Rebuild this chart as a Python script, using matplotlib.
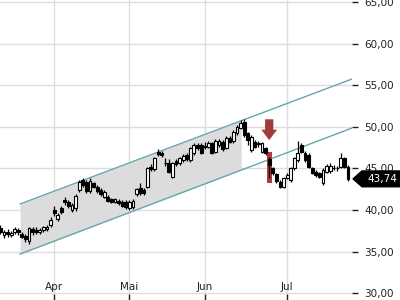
import numpy as np
import matplotlib
matplotlib.use("Agg")
import matplotlib.pyplot as plt
from matplotlib.patches import Polygon, Rectangle
from matplotlib.transforms import blended_transform_factory

# daily candles (index = trading day)
opens = [37.8, 37.0, 37.4, 37.0, 37.3, 37.6, 37.1, 36.9, 36.3, 37.7,
         37.6, 37.3, 37.6, 37.7, 38.2, 40.0, 38.9, 40.2, 41.2, 41.0,
         40.0, 40.2, 42.4, 43.6, 43.4, 42.3, 43.2, 42.8, 42.4, 41.6,
         41.6, 41.3, 41.0, 41.1, 41.0, 41.0, 40.2, 40.3, 41.9, 42.6,
         42.4, 42.8, 45.2, 44.9, 47.0, 46.9, 45.6, 45.6, 44.0, 45.9,
         45.6, 46.0, 46.6, 46.0, 46.8, 47.8, 47.8, 47.6, 47.6, 48.0,
         47.0, 47.8, 48.2, 47.5, 48.7, 48.3, 49.2, 49.9, 50.6, 49.2,
         47.2, 48.2, 47.9, 47.0, 47.4, 46.1, 45.0, 44.3, 43.4, 42.8,
         43.9, 43.6, 45.0, 46.0, 47.8, 46.9, 46.6, 45.0, 44.6, 44.4,
         43.2, 44.6, 44.7, 45.0, 45.0, 45.2, 46.2, 45.2]
highs = [38.2, 37.6, 37.7, 37.5, 38.0, 37.8, 37.3, 37.1, 38.0, 37.9,
         37.9, 37.8, 38.1, 38.2, 39.1, 40.5, 39.6, 40.5, 41.6, 41.2,
         40.8, 41.9, 43.6, 43.9, 43.6, 43.8, 43.4, 43.0, 42.6, 42.4,
         41.8, 41.5, 41.5, 41.3, 41.2, 41.2, 41.2, 41.3, 42.7, 43.2,
         42.7, 45.2, 45.5, 46.4, 47.3, 47.1, 46.3, 46.1, 45.8, 46.1,
         46.4, 46.7, 46.8, 47.6, 48.0, 48.0, 48.1, 48.2, 48.3, 48.2,
         48.5, 48.5, 48.4, 48.9, 48.9, 49.6, 50.2, 50.8, 50.9, 49.4,
         49.0, 48.4, 48.3, 48.2, 47.6, 46.4, 45.2, 44.5, 43.6, 44.0,
         44.4, 45.2, 46.4, 48.3, 48.0, 47.1, 46.8, 45.2, 44.8, 44.6,
         45.0, 45.5, 45.6, 45.4, 45.3, 46.8, 46.4, 45.4]
lows = [37.1, 36.6, 36.7, 36.8, 37.1, 37.0, 36.6, 36.2, 35.9, 37.0,
        37.1, 37.1, 37.4, 37.5, 38.0, 39.3, 38.7, 39.5, 40.6, 40.2,
        39.8, 39.9, 42.2, 42.8, 42.0, 42.1, 42.6, 42.1, 41.7, 41.4,
        40.9, 40.8, 40.8, 40.6, 40.3, 40.1, 40.0, 40.1, 41.7, 41.8,
        41.8, 42.6, 44.7, 44.7, 46.5, 46.4, 45.3, 44.4, 43.8, 45.3,
        45.4, 45.8, 45.9, 45.8, 46.6, 47.2, 46.7, 47.3, 47.4, 46.7,
        46.8, 47.6, 47.1, 47.3, 48.0, 48.1, 49.0, 49.7, 48.8, 47.8,
        47.0, 47.4, 47.6, 46.8, 46.6, 43.8, 44.2, 43.2, 42.6, 42.6,
        43.7, 43.4, 44.8, 45.8, 46.8, 45.8, 45.0, 44.3, 44.0, 43.8,
        43.0, 44.4, 44.5, 44.8, 44.7, 45.0, 45.0, 43.5]
closes = [37.4, 37.3, 37.1, 37.2, 37.7, 37.3, 36.8, 36.5, 37.8, 37.4,
          37.3, 37.6, 37.9, 38.0, 38.8, 39.6, 39.4, 39.8, 40.9, 40.5,
          40.6, 41.7, 43.4, 43.0, 42.3, 43.5, 42.8, 42.3, 41.9, 42.2,
          41.1, 41.0, 41.3, 40.8, 40.5, 40.3, 41.0, 41.1, 42.5, 42.0,
          42.0, 45.0, 44.9, 46.2, 46.7, 46.6, 45.65, 44.6, 45.6, 45.5,
          46.2, 46.5, 46.1, 47.4, 47.8, 47.4, 46.9, 47.65, 48.1, 46.9,
          48.3, 48.3, 47.3, 48.7, 48.2, 49.4, 50.0, 50.5, 49.0, 48.4,
          48.8, 47.6, 48.0, 48.0, 46.8, 45.4, 44.5, 43.5, 42.8, 43.8,
          44.2, 45.0, 46.2, 46.8, 47.0, 46.0, 45.2, 44.5, 44.2, 44.0,
          44.8, 45.3, 45.3, 45.05, 45.05, 46.2, 45.2, 43.74]

month_labels = ["Apr", "Mai", "Jun", "Jul"]
month_pos = [15, 36, 57, 80]

# trend channel (start/end index and values)
chan_x = [5.5, 98.1]
chan_upper = [40.72, 55.74]
chan_lower = [34.70, 49.85]
shade_end = 67.2

signal_idx = 75
signal_low, signal_high = 43.2, 47.0
last_price = closes[-1]

yticks = [30, 35, 40, 45, 50, 55, 60, 65]

fig = plt.figure(figsize=(4, 3), dpi=100)
ax = fig.add_axes([0, 0, 0.88, 1])

n = len(closes)
idx = np.arange(n)
o = np.array(opens)
c = np.array(closes)

ax.grid(True, color="#dddddd", lw=1, zorder=0)
ax.set_axisbelow(True)

# channel shade + lines
xs = np.linspace(chan_x[0], shade_end, 50)
ax.fill_between(xs, np.interp(xs, chan_x, chan_lower), np.interp(xs, chan_x, chan_upper),
                color="#dcdcdc", lw=0, zorder=1)
ax.plot(chan_x, chan_upper, color="#66a6ac", lw=1, zorder=2)
ax.plot(chan_x, chan_lower, color="#66a6ac", lw=1, zorder=2)

# signal bar
ax.add_patch(Rectangle((signal_idx - 0.65, signal_low), 1.3, signal_high - signal_low,
                       color="#b03a3a", lw=0, zorder=3))

# candles
up = c >= o
ax.vlines(idx, lows, highs, color="black", lw=0.9, zorder=4)
bottom = np.minimum(o, c)
height = np.maximum(np.abs(c - o), 0.04)
ax.bar(idx, height, bottom=bottom, width=0.8,
       color=np.where(up, "white", "black"), edgecolor="black", lw=0.8, zorder=5)

# arrow
ax.arrow(signal_idx, 50.9, 0, -2.5, width=2.3, head_width=4.4, head_length=1.25,
         length_includes_head=True, color="#a23b3b", lw=0, zorder=6)

ax.set_xlim(-0.1, 98.1)
ax.set_ylim(29.18, 65.24)
for s in ax.spines.values():
    s.set_visible(False)

ax.yaxis.tick_right()
ax.set_yticks(yticks)
ax.set_yticklabels([f"{v:.2f}".replace(".", ",") for v in yticks])
ax.tick_params(axis="y", length=4, width=1, color="#222222", labelsize=7.5,
               labelcolor="#222222", pad=5)
ax.set_xticks(month_pos)
ax.set_xticklabels([])
ax.tick_params(axis="x", direction="in", length=4, width=1, color="#222222")
for p, lab in zip(month_pos, month_labels):
    ax.text(p, 0.028, lab, transform=blended_transform_factory(ax.transData, ax.transAxes),
            ha="center", va="bottom", fontsize=7.5, color="#222222")

# last price tag
tr = blended_transform_factory(fig.transFigure, ax.transData)
h = 0.95
tag = Polygon([(0.8825, last_price), (0.905, last_price + h), (1.0, last_price + h),
               (1.0, last_price - h), (0.905, last_price - h)],
              closed=True, transform=tr, color="black", clip_on=False, zorder=10)
fig.add_artist(tag)
fig.text(0.955, last_price, f"{last_price:.2f}".replace(".", ","), transform=tr,
         ha="center", va="center", color="white", fontsize=7.5, zorder=11)

fig.savefig("out.png", dpi=100)
